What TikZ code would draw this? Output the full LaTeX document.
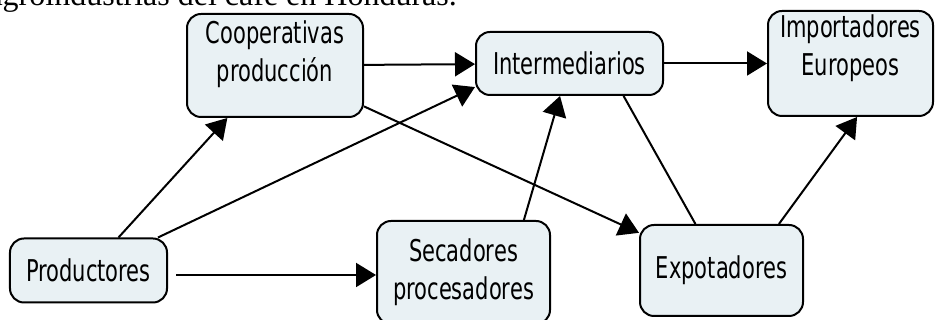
\documentclass[tikz,border=0pt]{standalone}
\usepackage{fontspec}
\usepackage{tikz}
\usetikzlibrary{positioning,arrows.meta}
\newfontfamily\cmapfont[FakeStretch=0.70]{DejaVu Sans}
\newfontfamily\captionfont{Liberation Serif}
\definecolor{conceptfill}{RGB}{233,241,244}

\begin{document}
\begin{tikzpicture}[on grid,
   concept/.style={draw, line width=2pt, rounded corners=14pt, fill=conceptfill,
      align=center, inner sep=0pt, font=\cmapfont\fontsize{30}{38}\selectfont},
   link/.style={line width=2pt, -{Triangle[length=20pt,width=24pt]}}]
   \useasboundingbox (-88.5pt,-49.5pt) rectangle (846.5pt,270.5pt);
   \clip (-88.5pt,-49.5pt) rectangle (846.5pt,270.5pt);

   % cut-off caption line at the top
   \node[anchor=base east, inner sep=0pt, font=\captionfont\fontsize{32}{38}\selectfont]
      (caption) at (368.5pt,265pt) {agroindustrias del café en Honduras.};

   \node[concept, minimum width=157pt, minimum height=64pt] (prod) {Productores};
   \node[concept, minimum width=173pt, minimum height=103pt] (secad) [below right=2pt and 375pt of prod] {Secadores\\procesadores};
   \node[concept, minimum width=163pt, minimum height=91pt] (expo) [above right=2pt and 258pt of secad] {Expotadores};
   \node[concept, minimum width=176pt, minimum height=103pt] (coop) [above right=205pt and 186.5pt of prod] {Cooperativas\\producción\rule[-28pt]{0pt}{0pt}};
   \node[concept, minimum width=187pt, minimum height=63pt] (inter) [above right=2pt and 294.5pt of coop] {Intermediarios};
   \node[concept, minimum width=165pt, minimum height=105pt] (impo) [right=281pt of inter] {Importadores\\Europeos\rule[-37pt]{0pt}{0pt}};

   \coordinate (prodOut) at ([yshift=-4.5pt]prod.east);

   \draw[link] (prod) -- (coop);
   \draw[link] (prod) -- (inter.194);
   \draw[link, shorten <=8pt] (prodOut) -- (prodOut -| secad.west);
   \draw[link] (coop) -- (inter);
   \draw[link] (coop) -- (expo);
   \draw[link] (secad.41) -- (inter);
   \draw[line width=2pt] (inter.-31) -- (expo);
   \draw[link] (inter) -- (impo);
   \draw[link] (expo.39) -- (impo.-83);
\end{tikzpicture}
\end{document}
